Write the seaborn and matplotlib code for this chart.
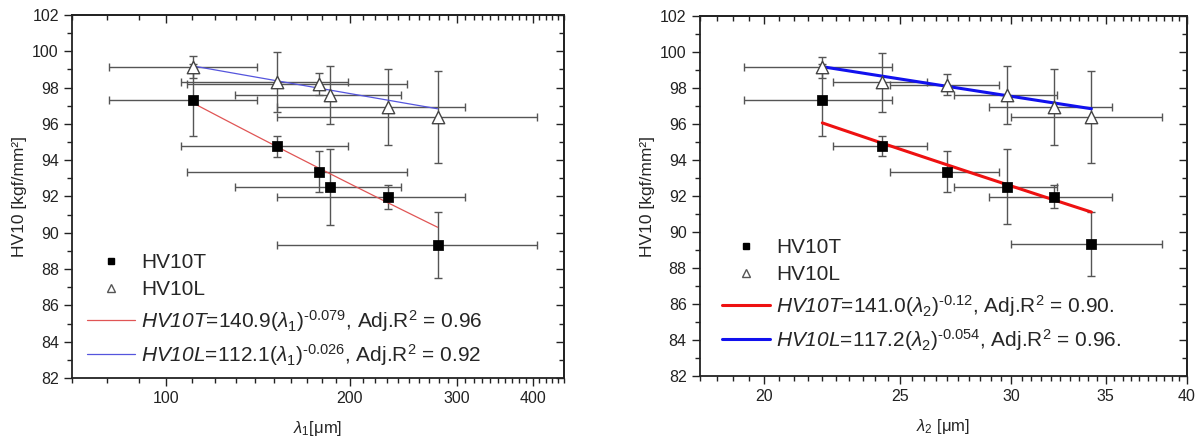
import numpy as np
import matplotlib
matplotlib.use("Agg")
import matplotlib.pyplot as plt
import seaborn as sns
from matplotlib.ticker import FixedLocator, MultipleLocator, NullFormatter, FixedFormatter
from matplotlib.lines import Line2D

# lambda_1 (left panel), lambda_2 (right panel), with x error
lam1 = [110.7, 152.0, 178.3, 186.0, 231.0, 279.0]
lam1_err = [30.2, 46.5, 70.0, 56.5, 79.0, 127.0]
lam2 = [22.0, 24.25, 27.0, 29.8, 32.15, 34.2]
lam2_err = [2.65, 1.85, 2.4, 2.5, 3.25, 4.2]

# hardness values
hv10t = [97.32, 94.78, 93.35, 92.52, 91.97, 89.33]
hv10t_err = [2.0, 0.58, 1.13, 2.1, 0.65, 1.8]
hv10l = [99.15, 98.31, 98.19, 97.6, 96.93, 96.38]
hv10l_err = [0.6, 1.65, 0.6, 1.6, 2.1, 2.55]

# power-law fits  HV = a * lambda^b  (coefficients as drawn)
fit1_t = (140.9, -0.079)
fit1_l = (112.1, -0.026)
fit2_t = (139.2, -0.12)
fit2_l = (117.2, -0.054)

labels1 = [r"$\mathsf{HV10T}$=140.9($\lambda_1$)$^{‐0.079}$, Adj.R$^2$ = 0.96",
           r"$\mathsf{HV10L}$=112.1($\lambda_1$)$^{‐0.026}$, Adj.R$^2$ = 0.92"]
labels2 = [r"$\mathsf{HV10T}$=141.0($\lambda_2$)$^{‐0.12}$, Adj.R$^2$ = 0.90.",
           r"$\mathsf{HV10L}$=117.2($\lambda_2$)$^{‐0.054}$, Adj.R$^2$ = 0.96."]

sns.set_theme(style="ticks")
plt.rcParams['font.family'] = ['Liberation Sans', 'DejaVu Sans']
plt.rcParams['mathtext.fontset'] = 'custom'
plt.rcParams['mathtext.rm'] = 'Liberation Sans'
plt.rcParams['mathtext.it'] = 'Liberation Sans:italic'
plt.rcParams['mathtext.sf'] = 'Liberation Sans:italic'
plt.rcParams['mathtext.bf'] = 'Liberation Sans:bold'

fig = plt.figure(figsize=(12.01, 4.41), dpi=100)
ax1 = fig.add_axes([0.0600, 0.1429, 0.4096, 0.8231])
ax2 = fig.add_axes([0.5828, 0.1474, 0.4055, 0.8163])


def draw_panel(ax, x, xerr, fit_t, fit_l, labels, colors, lw, anchor):
    ax.errorbar(x, hv10t, xerr=xerr, yerr=hv10t_err, fmt='none', ecolor='#555555',
                elinewidth=1, capsize=3, capthick=1, zorder=2)
    ax.errorbar(x, hv10l, xerr=xerr, yerr=hv10l_err, fmt='none', ecolor='#555555',
                elinewidth=1, capsize=3, capthick=1, zorder=2)
    xs = np.geomspace(x[0], x[-1], 50)
    sns.lineplot(x=xs, y=fit_t[0] * xs ** fit_t[1], color=colors[0], lw=lw, ax=ax, zorder=3)
    sns.lineplot(x=xs, y=fit_l[0] * xs ** fit_l[1], color=colors[1], lw=lw, ax=ax, zorder=3)
    sns.scatterplot(x=x, y=hv10t, marker='s', color='black', edgecolor='black', s=45, ax=ax, zorder=4)
    sns.scatterplot(x=x, y=hv10l, marker='^', color='white', edgecolor='#444444', linewidth=1,
                    s=80, ax=ax, zorder=4)

    handles = [Line2D([], [], ls='none', marker='s', color='black', markersize=5),
               Line2D([], [], ls='none', marker='^', markerfacecolor='white',
                      markeredgecolor='#555555', markersize=6),
               Line2D([], [], color=colors[0], lw=lw),
               Line2D([], [], color=colors[1], lw=lw)]
    ax.legend(handles, ['HV10T', 'HV10L'] + labels, loc='lower left', frameon=False,
              fontsize=15, handlelength=2.3, handletextpad=0.3, labelspacing=0.4,
              borderaxespad=0.3, bbox_to_anchor=anchor)

    ax.set_ylim(82, 102)
    ax.set_xscale('log')
    ax.yaxis.set_major_locator(MultipleLocator(2))
    ax.yaxis.set_minor_locator(MultipleLocator(1))
    ax.set_ylabel('HV10 [kgf/mm²]', fontsize=12.5)
    for s in ax.spines.values():
        s.set_linewidth(1.3)
        s.set_color('#222222')
    ax.tick_params(which='both', direction='out', width=1, colors='#222222',
                   labelsize=11.5, labelcolor='#222222')
    ax.tick_params(which='major', length=6)
    ax.tick_params(which='minor', length=3.5)


draw_panel(ax1, lam1, lam1_err, fit1_t, fit1_l, labels1, ['#e05555', '#5555dd'], 0.9, (0.0, -0.012))
draw_panel(ax2, lam2, lam2_err, fit2_t, fit2_l, labels2, ['#ee1111', '#1111ee'], 2.2, (0.016, 0.024))

ax1.set_xlim(70, 450)
ax2.set_xlim(18, 40)
majors = {ax1: [100, 200, 300, 400], ax2: [20, 25, 30, 35, 40]}
minors = {ax1: 10, ax2: 0.5}
for ax in (ax1, ax2):
    ax.xaxis.set_major_locator(FixedLocator(majors[ax]))
    ax.xaxis.set_major_formatter(FixedFormatter([str(v) for v in majors[ax]]))
    ax.xaxis.set_minor_locator(MultipleLocator(minors[ax]))
    ax.xaxis.set_minor_formatter(NullFormatter())
    top = ax.secondary_xaxis('top')
    top.xaxis.set_major_locator(FixedLocator(majors[ax]))
    top.xaxis.set_minor_locator(MultipleLocator(minors[ax]))
    top.xaxis.set_major_formatter(NullFormatter())
    top.xaxis.set_minor_formatter(NullFormatter())
    right = ax.secondary_yaxis('right')
    right.yaxis.set_major_locator(MultipleLocator(2))
    right.yaxis.set_minor_locator(MultipleLocator(1))
    right.yaxis.set_major_formatter(NullFormatter())
    for sec in (top, right):
        sec.spines[:].set_linewidth(1.3)
        sec.tick_params(which='both', direction='in', width=1, colors='#222222')
        sec.tick_params(which='major', length=6)
        sec.tick_params(which='minor', length=3.5)

ax1.set_xlabel(r'$\lambda_1$[μm]', fontsize=12, labelpad=9)
ax2.set_xlabel(r'$\lambda_2$ [μm]', fontsize=12, labelpad=9)

fig.savefig('out.png', dpi=100)
